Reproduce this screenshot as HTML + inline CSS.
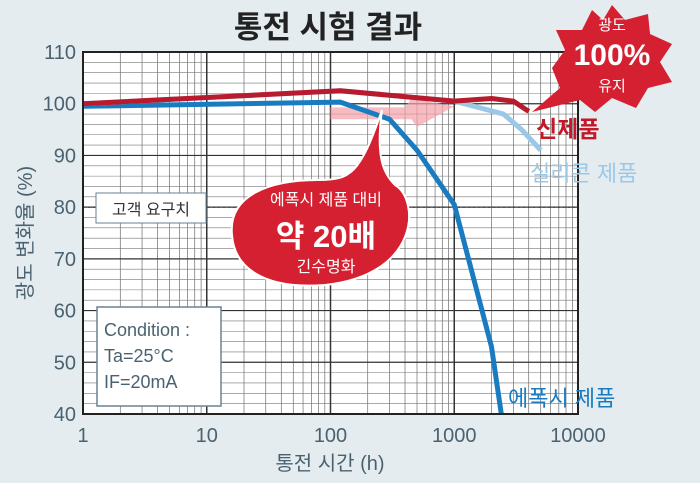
<!DOCTYPE html>
<html><head><meta charset="utf-8"><style>
body{margin:0;background:#e4ecf0;}
svg{display:block;font-family:"Liberation Sans","Noto Sans CJK KR",sans-serif;}
</style></head><body>
<svg id="c" width="700" height="483" viewBox="0 0 700 483">
<rect width="700" height="483" fill="#e4ecf0"/>
<text x="328" y="38" font-size="31" font-weight="bold" text-anchor="middle" fill="#222">통전 시험 결과</text>
<rect x="83" y="52" width="495" height="362" fill="#fff"/>
<g id="grid"></g>
<g id="series"></g>
<rect x="83" y="52" width="495" height="362" fill="none" stroke="#222" stroke-width="2"/>
<text transform="translate(32,233) rotate(-90)" font-size="20" fill="#4a6270" text-anchor="middle">광도 변화율 (%)</text>
<text x="330" y="470" font-size="20" fill="#4a6270" text-anchor="middle">통전 시간 (h)</text>
<g><rect x="96" y="193" width="110" height="30" fill="#fff" stroke="#6a8290"/><text x="151" y="215" font-size="16" fill="#333" text-anchor="middle">고객 요구치</text></g>
<g><rect x="97" y="307" width="124" height="99" fill="#fff" stroke="#6a8290" stroke-width="1.5"/>
<text x="104" y="336" font-size="18" fill="#4a6270">Condition :</text><text x="104" y="362" font-size="18" fill="#4a6270">Ta=25°C</text><text x="104" y="388" font-size="18" fill="#4a6270">IF=20mA</text></g>
<g>
<path d="M232,235 C228,195 270,180 318,180 C350,180 360,175 382,110 C375,160 385,175 395,185 C420,200 420,275 325,285 C260,290 234,265 232,235Z" fill="#d42030" stroke="#fff" stroke-width="2"/>
<text x="326" y="205" font-size="16" fill="#fff" text-anchor="middle">에폭시 제품 대비</text>
<text x="326" y="247" font-size="31" font-weight="bold" fill="#fff" text-anchor="middle">약 20배</text>
<text x="326" y="272" font-size="16" fill="#fff" text-anchor="middle">긴수명화</text></g>
<g>
<path d="M612,5 L625,20 L648,14 L650,34 L672,44 L660,62 L672,82 L648,88 L636,108 L612,98 L595,112 L580,100 L532,112 L560,88 L552,68 L565,50 L556,30 L582,30 L592,10 L603,20Z" fill="#d42030"/>
<text x="612" y="30" font-size="15" fill="#fff" text-anchor="middle">광도</text>
<text x="612" y="65" font-size="30" font-weight="bold" fill="#fff" text-anchor="middle">100%</text>
<text x="612" y="91" font-size="15" fill="#fff" text-anchor="middle">유지</text></g>
<text x="536" y="137" font-size="23" font-weight="bold" fill="#c41828">신제품</text>
<text x="530" y="181" font-size="22" fill="#9cc8e8">실리콘 제품</text>
<text x="508" y="406" font-size="22" fill="#1a7cc0">에폭시 제품</text>
</svg>
<script>
const xTicks=[1,10,100,1000,10000];
const xTickLabels=["1","10","100","1000","10000"];
const yTicks=[40,50,60,70,80,90,100,110];
const epoxyX=[1,120,300,500,1000,2000,2400];
const epoxyY=[99.5,100.3,97,91,80.5,53,40];
const siliconeX=[1,120,1000,2500,3500,5000];
const siliconeY=[100,102.5,100.5,98,95,91];
const newX=[1,120,1000,2000,3000,4000];
const newY=[100,102.5,100.5,101,100.5,98.5];
const spec=80;
const L=83,R=578,T=52,B=414,NS="http://www.w3.org/2000/svg";
const sx=v=>L+(Math.log10(v)/4)*(R-L);
const sy=v=>B-(v-40)/70*(B-T);
function mk(t,a,p){const e=document.createElementNS(NS,t);for(const k in a)e.setAttribute(k,a[k]);p.appendChild(e);return e;}
const svg=document.getElementById('c'),g=document.getElementById('grid'),s=document.getElementById('series');
for(let d=0;d<4;d++)for(let m=2;m<=9;m++){const x=sx(Math.pow(10,d)*m);const l=mk('line',{x1:x,x2:x,y1:T,y2:B,stroke:'#555','stroke-width':0.6},g);

}
for(let v=40;v<=110;v+=2){const l=mk('line',{x1:L,x2:R,y1:sy(v),y2:sy(v),stroke:v%10?'#777':'#333','stroke-width':v%10?0.6:1.2},g);

}
xTicks.forEach((v,i)=>{const l=mk('line',{x1:sx(v),x2:sx(v),y1:T,y2:B,stroke:'#333','stroke-width':1.5},g);


const t=mk('text',{x:sx(v),y:442,'font-size':20,fill:'#4a6270','text-anchor':'middle'},svg);t.textContent=xTickLabels[i];

});
yTicks.forEach(v=>{const t=mk('text',{x:76,y:sy(v)+7,'font-size':20,fill:'#4a6270','text-anchor':'end'},svg);t.textContent=v;

});
const sl=mk('line',{x1:L,x2:R,y1:sy(spec),y2:sy(spec),stroke:'#333','stroke-dasharray':'2,3','stroke-width':1.2},g);


const ar=mk('path',{d:`M${sx(100)},${sy(99.3)} L${sx(400)},${sy(99.3)} L${sx(450)},${sy(101)} L${sx(1000)},${sy(99.5)} L${sx(500)},${sy(95.5)} L${sx(450)},${sy(97)} L${sx(100)},${sy(97)}Z`,fill:'#f4a0a8',opacity:0.7},s);


function line(X,Y,c,n){const p=mk('polyline',{points:X.map((x,i)=>sx(x)+','+sy(Y[i])).join(' '),fill:'none',stroke:c,'stroke-width':5,'stroke-linejoin':'round'},s);

}
line(epoxyX,epoxyY,'#1a7cc0','series-epoxy');
line(siliconeX,siliconeY,'#9cc8e8','series-silicone');
line(newX,newY,'#b81a2e','series-new-product');
</script>
</body></html>
